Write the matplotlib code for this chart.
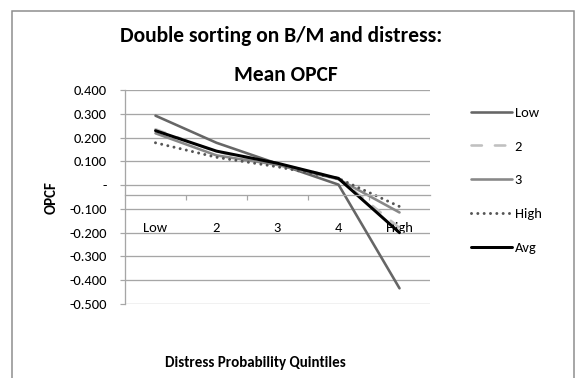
import numpy as np
import matplotlib
matplotlib.use("Agg")
import matplotlib.pyplot as plt
from matplotlib import font_manager
from matplotlib.patches import Rectangle
from matplotlib.ticker import FixedLocator, FuncFormatter

# dados
quintis = ["Low", "2", "3", "4", "High"]
serie_low = [0.292, 0.178, 0.090, 0.002, -0.434]
serie_2 = [0.235, 0.140, 0.090, 0.030, -0.180]
serie_3 = [0.218, 0.125, 0.085, 0.025, -0.115]
serie_high = [0.178, 0.117, 0.077, 0.028, -0.090]
serie_avg = [0.229, 0.143, 0.092, 0.028, -0.200]
nomes = ["Low", "2", "3", "High", "Avg"]

W, H = 576, 378


def escolher_fonte(candidatas):
    instaladas = {f.name for f in font_manager.fontManager.ttflist}
    for nome in candidatas:
        if nome in instaladas:
            return nome
    return "DejaVu Sans"


fonte = escolher_fonte(["Carlito", "Lato", "Open Sans"])
plt.rcParams["font.family"] = [fonte, "DejaVu Sans"]

fig = plt.figure(figsize=(W / 72, H / 72), dpi=72)
fig.patch.set_facecolor("white")

# moldura externa
fig.patches.append(Rectangle((11.5 / W, -0.05), (574 - 11.5) / W, 1.05 - 11 / H,
                             transform=fig.transFigure, fill=False,
                             edgecolor="#8c8c8c", linewidth=1.5))

ax = fig.add_axes([125 / W, 1 - 304 / H, 305 / W, 214 / H])
x = np.arange(len(quintis))

ax.plot(x, serie_low, color="#666666", lw=2.6, label=nomes[0], solid_capstyle="round")
ax.plot(x, serie_2, color="#c0c0c0", lw=2.6, ls=(0, (4, 5)), dash_capstyle="round",
        label=nomes[1])
ax.plot(x, serie_3, color="#888888", lw=2.6, label=nomes[2], solid_capstyle="round")
ax.plot(x, serie_high, color="#555555", lw=3.0, ls=(0, (0.01, 2.1)),
        dash_capstyle="round", label=nomes[3])
ax.plot(x, serie_avg, color="black", lw=3.0, label=nomes[4], solid_capstyle="round")

ax.set_xlim(-0.5, 4.5)
ax.set_ylim(-0.5, 0.4)

yt = np.round(np.arange(-0.5, 0.41, 0.1), 1)
ax.set_yticks(yt)
ax.yaxis.set_major_formatter(FuncFormatter(lambda v, p: "-" if abs(v) < 1e-9 else f"{v:.3f}"))
ax.yaxis.grid(True, color="#a6a6a6", lw=1.3)
ax.set_axisbelow(True)
ax.tick_params(axis="y", length=5, width=1.2, color="#a6a6a6", pad=13,
               labelsize=14.5, labelcolor="black")

for lado in ["top", "right"]:
    ax.spines[lado].set_visible(False)
ax.spines["left"].set_color("#a6a6a6")
ax.spines["left"].set_linewidth(1.3)
ax.spines["bottom"].set_position(("data", -0.04))
ax.spines["bottom"].set_color("#a6a6a6")
ax.spines["bottom"].set_linewidth(1.3)

ax.set_xticks(x)
ax.set_xticklabels(quintis)
ax.xaxis.set_minor_locator(FixedLocator([0.5, 1.5, 2.5, 3.5]))
ax.tick_params(axis="x", which="major", length=0, pad=27, labelsize=14.5)
ax.tick_params(axis="x", which="minor", length=5, width=1.2, color="#a6a6a6")

fig.text(281 / W, 1 - 36 / H, "Double sorting on B/M and distress:",
         ha="center", va="center", fontsize=21.5, fontweight="bold")
fig.text(286 / W, 1 - 75 / H, "Mean OPCF",
         ha="center", va="center", fontsize=21.5, fontweight="bold")
fig.text(52 / W, 1 - 198 / H, "OPCF", rotation=90, ha="center", va="center",
         fontsize=15, fontweight="bold")
fig.text(255 / W, 1 - 363.5 / H, "Distress Probability Quintiles",
         ha="center", va="center", fontsize=15, fontweight="bold")

ax.legend(loc="upper left", bbox_to_anchor=(471 / W, 1 - 106.5 / H),
          bbox_transform=fig.transFigure, frameon=False, fontsize=14.5,
          handlelength=2.8, handletextpad=0.2, labelspacing=1.5,
          borderaxespad=0, borderpad=0)

fig.savefig("out.png", dpi=72)
